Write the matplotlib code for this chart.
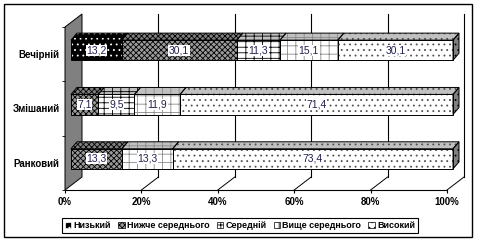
import matplotlib
matplotlib.use('Agg')
import matplotlib.pyplot as plt
import numpy as np
from matplotlib.transforms import Affine2D, IdentityTransform
from matplotlib.patches import Polygon, Rectangle, Patch
from matplotlib.lines import Line2D

# ---------------- data ----------------
categories = ['Вечірній', 'Змішаний', 'Ранковий']
series_names = ['Низький', 'Нижче середнього', 'Середній', 'Вище середнього', 'Високий']
low = [13.2, 0.0, 0.0]
below_avg = [30.1, 7.1, 13.3]
average = [11.3, 9.5, 0.0]
above_avg = [15.1, 11.9, 13.3]
high = [30.1, 71.4, 73.4]
x_ticks = [0, 20, 40, 60, 80, 100]
x_tick_labels = ['0%', '20%', '40%', '60%', '80%', '100%']

series = [low, below_avg, average, above_avg, high]

# ---------------- style ----------------
plt.rcParams['font.family'] = ['Liberation Sans', 'DejaVu Sans']
plt.rcParams['hatch.linewidth'] = 0.6

styles = [
    dict(face='black', top='black', side='black', hatch='...', hc='white'),
    dict(face='#9a9a9a', top='#808080', side='#606060', hatch='xxxxxx', hc='black'),
    dict(face='white', top='#c0c0c0', side='#808080', hatch='---||', hc='black'),
    dict(face='white', top='#c0c0c0', side='#808080', hatch='++', hc='#8a8a8a'),
    dict(face='white', top='#c0c0c0', side='#808080', hatch='...', hc='#505050'),
]
label_color = '#202050'

W, H = 481, 242
fig = plt.figure(figsize=(W / 100, H / 100), dpi=100)
fig.patch.set_facecolor('white')
ax = fig.add_axes([65 / W, 52 / H, 382 / W, 163 / H])
ax.set_xlim(0, 100)
ax.set_ylim(0, 3)
for s in ax.spines.values():
    s.set_visible(False)
ax.patch.set_visible(False)

def shifted(dx, dy):
    return ax.transData + Affine2D().translate(dx, dy)

front = ax.transData
back = shifted(17, 13)
bar_front = shifted(6, 4)
bar_back = shifted(12, 11)
ident = IdentityTransform()


def disp(pairs):
    return np.array([t.transform(p) for t, p in pairs])


def face(poly, fc, hatch, hc, z):
    ax.add_patch(Polygon(poly, closed=True, transform=ident, facecolor=fc,
                         edgecolor='none', lw=0, zorder=z, clip_on=False))
    if hatch:
        ax.add_patch(Polygon(poly, closed=True, transform=ident, fill=False,
                             hatch=hatch, edgecolor=hc, lw=0, zorder=z + 0.1,
                             clip_on=False))
    ax.add_patch(Polygon(poly, closed=True, transform=ident, fill=False,
                         edgecolor='black', lw=0.7, zorder=z + 0.2, clip_on=False))


# left side wall
wall = disp([(front, (0, 0)), (front, (0, 3)), (back, (0, 3)), (back, (0, 0))])
ax.add_patch(Polygon(wall, closed=True, transform=ident, facecolor='#808080',
                     edgecolor='black', lw=0.7, zorder=1, clip_on=False))

# back wall gridlines and floor lines
for x in x_ticks[1:]:
    ax.plot([x, x], [0, 3], transform=back, color='black', lw=0.8,
            clip_on=False, zorder=1)
    seg = disp([(front, (x, 0)), (back, (x, 0))])
    ax.add_line(Line2D(seg[:, 0], seg[:, 1], transform=ident, color='black',
                       lw=0.7, clip_on=False, zorder=1))
ax.plot([0, 100], [0, 0], transform=front, color='black', lw=0.8,
        clip_on=False, zorder=1)

# stacked bars
h = 0.37
for i, cat in enumerate(categories):
    yc = len(categories) - 1 - i + 0.5
    yb, yt = yc - h / 2, yc + h / 2
    vals = [s[i] for s in series]
    total = sum(vals)
    nz = [j for j, v in enumerate(vals) if v > 0]
    left = 0.0
    for j, v in enumerate(vals):
        if v <= 0:
            continue
        x0 = left
        x1 = left + v / total * 100
        left = x1
        st = styles[j]
        fr = disp([(bar_front, (x0, yb)), (bar_front, (x1, yb)),
                   (bar_front, (x1, yt)), (bar_front, (x0, yt))])
        face(fr, st['face'], st['hatch'], st['hc'], 3)
        tp = disp([(bar_front, (x0, yt)), (bar_front, (x1, yt)),
                   (bar_back, (x1, yt)), (bar_back, (x0, yt))])
        face(tp, st['top'], st['hatch'], st['hc'], 3)
        if j == nz[-1]:
            sd = disp([(bar_front, (x1, yb)), (bar_front, (x1, yt)),
                       (bar_back, (x1, yt)), (bar_back, (x1, yb))])
            face(sd, st['side'], st['hatch'], 'black', 3)
        ax.text((x0 + x1) / 2, yc, f'{v:.1f}'.replace('.', ','),
                transform=bar_front, ha='center', va='center', fontsize=7.5,
                color=label_color, zorder=10,
                bbox=dict(facecolor='white', edgecolor='none', pad=0.4))

# axes ticks
ax.set_xticks(x_ticks, x_tick_labels)
ax.tick_params(axis='x', length=2, pad=3, labelsize=7)
for t in ax.get_xticklabels():
    t.set_fontweight('bold')
ax.set_yticks([2.5, 1.5, 0.5], categories)
ax.set_yticks([0, 1, 2, 3], minor=True)
ax.tick_params(axis='y', which='major', length=0, pad=4, labelsize=7)
ax.tick_params(axis='y', which='minor', length=2.5)
for t in ax.get_yticklabels():
    t.set_fontweight('bold')

# legend
handles = []
for st in styles:
    if st['face'] == 'black':
        handles.append(Patch(facecolor='black', edgecolor='white', hatch=st['hatch'], lw=0.5))
    else:
        handles.append(Patch(facecolor=st['face'], edgecolor='black', hatch=st['hatch'], lw=0.5))
leg = fig.legend(handles, series_names, loc='center',
                 bbox_to_anchor=(240 / W, (H - 225.5) / H), ncol=5,
                 frameon=True, fancybox=False, edgecolor='black', framealpha=1,
                 prop=dict(size=6.5, weight='bold'), handlelength=0.7,
                 handleheight=0.7, handletextpad=0.25, columnspacing=0.8,
                 borderpad=0.35, borderaxespad=0)
leg.get_frame().set_linewidth(0.8)

# outer frame
fig.add_artist(Rectangle((4 / W, 5 / H), 468 / W, 233 / H, transform=fig.transFigure,
                         fill=False, edgecolor='black', lw=1))

fig.savefig('out.png', dpi=100)
